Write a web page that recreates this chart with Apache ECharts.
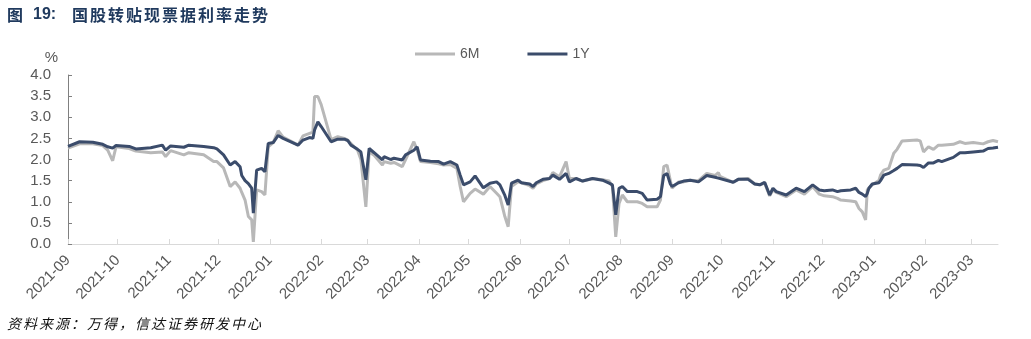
<!DOCTYPE html>
<html><head><meta charset="utf-8">
<script src="https://cdn.jsdelivr.net/npm/echarts@6/dist/echarts.min.js"></script>
<style>html,body{margin:0;padding:0;background:#fff}#c{width:1031px;height:339px}</style>
</head><body><div id="c"></div>
<script>
// ---- data ----
const dates = [
'2021-09-01','2021-09-08','2021-09-16','2021-09-22','2021-09-25','2021-09-28','2021-09-30',
'2021-10-08','2021-10-12','2021-10-21','2021-10-28','2021-10-30',
'2021-11-02','2021-11-10','2021-11-13','2021-11-22','2021-11-28','2021-11-30',
'2021-12-04','2021-12-08','2021-12-11','2021-12-14','2021-12-15','2021-12-17','2021-12-19','2021-12-21','2021-12-22','2021-12-24','2021-12-27','2021-12-29','2021-12-31',
'2022-01-03','2022-01-06','2022-01-09','2022-01-13','2022-01-18','2022-01-21','2022-01-25','2022-01-27','2022-01-28','2022-01-30',
'2022-02-01','2022-02-07','2022-02-11','2022-02-15','2022-02-17','2022-02-19','2022-02-23','2022-02-25','2022-02-28',
'2022-03-02','2022-03-05','2022-03-10','2022-03-11','2022-03-15','2022-03-17','2022-03-22','2022-03-24','2022-03-29','2022-03-31',
'2022-04-02','2022-04-08','2022-04-13','2022-04-16','2022-04-20','2022-04-24','2022-04-26','2022-04-28',
'2022-05-02','2022-05-05','2022-05-10','2022-05-14','2022-05-18','2022-05-20','2022-05-23','2022-05-25','2022-05-27','2022-05-31',
'2022-06-02','2022-06-07','2022-06-09','2022-06-11','2022-06-15','2022-06-19','2022-06-21','2022-06-25','2022-06-29',
'2022-07-01','2022-07-05','2022-07-09','2022-07-15','2022-07-21','2022-07-25','2022-07-27','2022-07-29','2022-07-31',
'2022-08-02','2022-08-05','2022-08-11','2022-08-14','2022-08-17','2022-08-23','2022-08-25','2022-08-27','2022-08-29','2022-08-31',
'2022-09-01','2022-09-05','2022-09-08','2022-09-12','2022-09-17','2022-09-22','2022-09-27','2022-09-29','2022-09-30',
'2022-10-08','2022-10-11','2022-10-17','2022-10-21','2022-10-24','2022-10-27','2022-10-30',
'2022-11-01','2022-11-03','2022-11-09','2022-11-15','2022-11-20','2022-11-25','2022-11-29',
'2022-12-02','2022-12-07','2022-12-10','2022-12-12','2022-12-18','2022-12-21','2022-12-23','2022-12-25','2022-12-27','2022-12-28','2022-12-29','2022-12-31',
'2023-01-04','2023-01-05','2023-01-07','2023-01-10','2023-01-13','2023-01-15','2023-01-18','2023-01-27','2023-01-29','2023-01-31',
'2023-02-03','2023-02-06','2023-02-09','2023-02-11','2023-02-18','2023-02-22','2023-02-25',
'2023-03-02','2023-03-08','2023-03-11','2023-03-14','2023-03-17'
];
const rate1Y = [
2.31,2.42,2.41,2.36,2.30,2.27,2.33,
2.31,2.25,2.28,2.34,2.22,
2.32,2.29,2.34,2.31,2.28,2.25,
2.11,1.87,1.95,1.83,1.62,1.50,1.43,1.32,0.73,1.75,1.79,1.71,2.38,
2.40,2.57,2.50,2.43,2.34,2.46,2.52,2.50,2.70,2.89,
2.78,2.42,2.48,2.48,2.45,2.34,2.24,2.18,1.52,
2.26,2.16,1.99,2.07,2.00,2.03,1.99,2.11,2.22,2.30,
1.99,1.96,1.95,1.89,1.95,1.87,1.63,1.40,
1.47,1.61,1.33,1.44,1.47,1.40,1.15,0.92,1.44,1.51,
1.45,1.42,1.36,1.45,1.53,1.55,1.63,1.53,1.67,
1.47,1.55,1.49,1.55,1.51,1.44,1.40,0.69,1.32,
1.36,1.24,1.24,1.20,1.04,1.06,1.12,1.62,1.67,1.42,
1.36,1.45,1.49,1.51,1.47,1.62,1.58,1.56,1.55,
1.46,1.53,1.53,1.42,1.40,1.46,1.16,
1.32,1.24,1.16,1.32,1.24,1.40,1.28,
1.26,1.28,1.24,1.26,1.28,1.32,1.22,1.18,1.12,1.20,1.32,1.42,
1.45,1.50,1.63,1.67,1.74,1.79,1.88,1.87,1.86,1.81,
1.92,1.92,1.98,1.95,2.05,2.16,2.16,
2.18,2.20,2.26,2.27,2.29
];
const rate6M = [
2.27,2.37,2.37,2.33,2.22,1.97,2.30,
2.26,2.20,2.16,2.18,2.07,
2.21,2.11,2.16,2.11,1.95,1.95,
1.80,1.36,1.47,1.32,1.22,1.04,0.65,0.57,0.05,1.28,1.24,1.16,2.30,
2.40,2.68,2.53,2.45,2.34,2.56,2.62,2.65,3.49,3.49,
3.30,2.47,2.54,2.50,2.46,2.38,2.22,2.00,0.88,
2.18,2.10,1.87,1.95,1.91,1.93,1.83,2.00,2.42,2.22,
1.95,1.93,1.90,1.87,1.88,1.79,1.36,1.00,
1.20,1.30,1.18,1.36,1.20,1.12,0.65,0.41,1.36,1.47,
1.45,1.38,1.32,1.42,1.50,1.55,1.69,1.59,1.95,
1.55,1.55,1.49,1.55,1.52,1.49,1.36,0.17,0.96,
1.16,1.00,1.00,0.96,0.88,0.88,1.04,1.83,1.87,1.50,
1.32,1.47,1.47,1.51,1.50,1.67,1.62,1.69,1.60,
1.46,1.53,1.55,1.42,1.40,1.44,1.14,
1.28,1.22,1.12,1.28,1.18,1.36,1.18,
1.14,1.12,1.08,1.04,1.02,1.00,0.84,0.76,0.57,1.28,1.33,1.40,
1.50,1.63,1.75,1.79,2.15,2.24,2.44,2.46,2.44,2.18,
2.30,2.24,2.34,2.34,2.36,2.42,2.38,
2.40,2.37,2.42,2.45,2.42
];
const seriesNames = ['6M', '1Y'];
const titleLead = '图';
const titleNum = '19:';
const titleBody = '国股转贴现票据利率走势';
const sourceText = '资料来源：万得，信达证券研发中心';
const xMin = '2021-09-01';
const xMax = '2023-03-17';

// ---- chart ----
const chart = echarts.init(document.getElementById('c'), null, {renderer: 'canvas'});
const titleRich = '{a|' + titleLead + '}{b|' + titleNum + '}' +
  Array.from(titleBody).map(ch => '{c|' + ch + '}').join('');
const sourceRich = Array.from(sourceText).map(ch => '{s|' + ch + '}').join('');
const FONT = '"Liberation Sans", Arial, "Noto Sans CJK SC", sans-serif';
const TC = '#203a5e';

chart.setOption({
  animation: false,
  backgroundColor: '#fff',
  title: [{
    text: titleRich, left: 7, top: 7, padding: 0,
    textStyle: {
      fontSize: 16, fontWeight: 'bold', color: TC,
      fontFamily: FONT,
      rich: {
        a: {width: 26, fontSize: 16, fontWeight: 'bold', color: TC, fontFamily: '"Noto Sans CJK SC"'},
        b: {width: 39, fontSize: 16, fontWeight: 'bold', color: TC, fontFamily: FONT},
        c: {width: 18, fontSize: 16, fontWeight: 'bold', color: TC, fontFamily: '"Noto Sans CJK SC"'}
      }
    }
  }, {
    text: sourceRich, left: 7, top: 317, padding: 0,
    textStyle: {
      fontSize: 14, color: '#111', fontWeight: 'normal',
      rich: {
        s: {width: 16, fontSize: 14, fontStyle: 'italic', fontWeight: 'normal', color: '#111', fontFamily: '"Noto Sans CJK SC"'}
      }
    }
  }],
  legend: {
    data: seriesNames, left: 415, top: 47, padding: 0,
    icon: 'rect', itemWidth: 40, itemHeight: 3, itemGap: 48,
    textStyle: {fontSize: 14, color: '#595959', fontFamily: FONT}
  },
  grid: {left: 68, right: 33, top: 75, bottom: 95, containLabel: false, outerBoundsMode: 'none'},
  xAxis: {
    type: 'time', min: xMin, max: xMax,
    minInterval: 30 * 86400000, maxInterval: 30 * 86400000,
    axisLine: {show: true, lineStyle: {color: '#d9d9d9', width: 1}},
    axisTick: {show: true, inside: true, length: 5, lineStyle: {color: '#d9d9d9'}},
    splitLine: {show: false},
    axisLabel: {
      rotate: 45, margin: 14, fontSize: 15, color: '#595959', fontFamily: FONT,
      showMinLabel: true, showMaxLabel: false, hideOverlap: false,
      formatter: function (v) {
        const d = new Date(v);
        return d.getFullYear() + '-' + String(d.getMonth() + 1).padStart(2, '0');
      }
    }
  },
  yAxis: {
    type: 'value', min: 0, max: 4, interval: 0.5,
    name: '%', nameLocation: 'end', nameGap: 10,
    nameTextStyle: {fontSize: 15, color: '#595959', fontFamily: FONT, align: 'right', padding: [0, 10, 0, 0]},
    axisLine: {show: true, lineStyle: {color: '#808080', width: 1}},
    axisTick: {show: true, inside: true, length: 4, lineStyle: {color: '#808080'}},
    splitLine: {show: false},
    axisLabel: {
      margin: 17, fontSize: 15, color: '#595959', fontFamily: FONT,
      formatter: v => v.toFixed(1)
    }
  },
  series: [{
    name: seriesNames[0], type: 'line', showSymbol: false, symbol: 'none',
    data: dates.map((d, i) => [d, rate6M[i]]),
    lineStyle: {color: '#b8b8b8', width: 3}, itemStyle: {color: '#b8b8b8'}
  }, {
    name: seriesNames[1], type: 'line', showSymbol: false, symbol: 'none',
    data: dates.map((d, i) => [d, rate1Y[i]]),
    lineStyle: {color: '#3b4c6b', width: 3}, itemStyle: {color: '#3b4c6b'}
  }]
});
</script>
</body></html>
